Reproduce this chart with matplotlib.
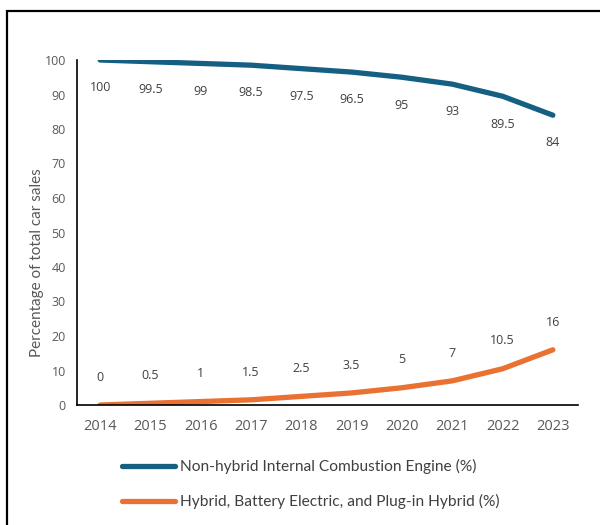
import matplotlib
matplotlib.use("Agg")
import matplotlib.pyplot as plt
from matplotlib.patches import Rectangle

years = ["2014", "2015", "2016", "2017", "2018", "2019", "2020", "2021", "2022", "2023"]
ice = [100, 99.5, 99, 98.5, 97.5, 96.5, 95, 93, 89.5, 84]
hybrid = [0, 0.5, 1, 1.5, 2.5, 3.5, 5, 7, 10.5, 16]
ice_name = "Non-hybrid Internal Combustion Engine (%)"
hybrid_name = "Hybrid, Battery Electric, and Plug-in Hybrid (%)"

plt.rcParams['font.family'] = ['Open Sans', 'DejaVu Sans']

blue = '#156082'
orange = '#E97132'
label_col = '#404040'
tick_col = '#595959'

fig = plt.figure(figsize=(6, 5.25), dpi=100)
ax = fig.add_axes([77/600, 1 - 405/525, (578 - 77)/600, (405 - 60)/525])

x = list(range(len(years)))
l1, = ax.plot(x, ice, color=blue, lw=3.8, solid_capstyle='round', solid_joinstyle='round')
l2, = ax.plot(x, hybrid, color=orange, lw=3.8, solid_capstyle='round', solid_joinstyle='round')

# data labels: below the blue line, above the orange line
for i, v in enumerate(ice):
    ax.annotate("{:g}".format(v), (i, v), xytext=(0, -20), textcoords='offset points',
                ha='center', va='center', fontsize=9, color=label_col)
for i, v in enumerate(hybrid):
    ax.annotate("{:g}".format(v), (i, v), xytext=(0, 20), textcoords='offset points',
                ha='center', va='center', fontsize=9, color=label_col)

ax.set_xlim(-0.46, 9.5)
ax.set_ylim(0, 100)
ax.set_yticks(range(0, 101, 10))
ax.set_xticks(x)
ax.set_xticklabels(years)
ax.tick_params(axis='x', length=0, pad=10, labelsize=10.5, colors=tick_col)
ax.tick_params(axis='y', length=0, pad=8, labelsize=9, colors=tick_col)
for s in ['top', 'right']:
    ax.spines[s].set_visible(False)
for s in ['left', 'bottom']:
    ax.spines[s].set_color('black')
    ax.spines[s].set_linewidth(1.2)
ax.set_ylabel("Percentage of total car sales", fontsize=11, color=tick_col,
              family=['Lato', 'DejaVu Sans'])
ax.yaxis.set_label_coords(44/600, 1 - 263/525, transform=fig.transFigure)

fig.legend([l1, l2], [ice_name, hybrid_name], loc='upper left',
           bbox_to_anchor=(122/600, 1 - 459/525), frameon=False,
           prop={'family': ['Lato', 'DejaVu Sans'], 'size': 11.2},
           handlelength=3.4, handletextpad=0.3, labelspacing=1.3,
           borderpad=0, borderaxespad=0, labelcolor=label_col)

# outer frame, cut off at right and bottom like the reference
fig.patches.append(Rectangle((7/600, -0.1), 1.2, 1.1 - 11/525, transform=fig.transFigure,
                             fill=False, edgecolor='black', lw=1.6))

fig.savefig("out.png", dpi=100)
